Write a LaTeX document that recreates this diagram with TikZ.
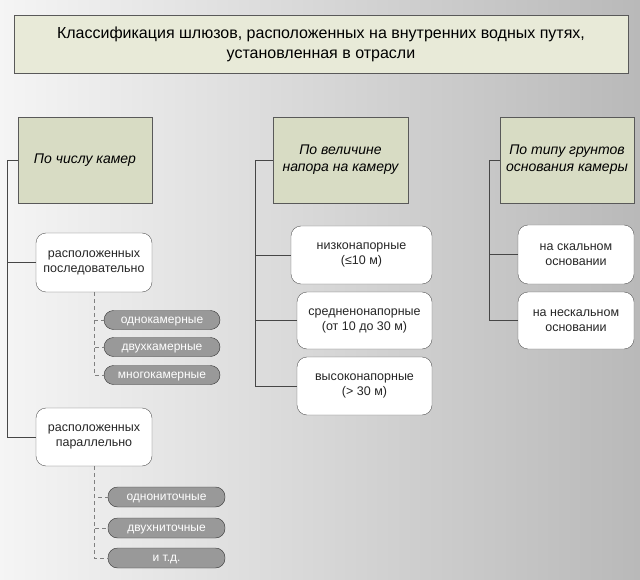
\documentclass[tikz,border=0pt]{standalone}
\usepackage{fontspec}
\setmainfont{Liberation Sans}
\usetikzlibrary{shapes,positioning}

\definecolor{headfill}{RGB}{216,220,196}
\definecolor{titlefill}{RGB}{232,234,216}
\definecolor{pillfill}{RGB}{153,153,153}
\definecolor{linegray}{RGB}{70,70,70}

\tikzset{
  titlebox/.style={draw=gray!70!black, fill=titlefill, align=center, inner sep=0pt,
    minimum width=614pt, minimum height=58pt, font=\fontsize{16}{20}\selectfont},
  headbox/.style={draw=gray!70!black, fill=headfill, align=center, inner sep=0pt,
    minimum width=134pt, minimum height=86pt, font=\fontsize{14}{17}\selectfont\itshape},
  catbox/.style={draw=gray!70!black, fill=white, rounded corners=10pt, align=center, inner sep=0pt,
    minimum width=116pt, minimum height=58pt, font=\fontsize{12.5}{15}\selectfont, text=black!85},
  pillbox/.style={draw=gray!40!black, fill=pillfill, rounded corners=9.5pt, inner sep=0pt,
    minimum width=116pt, minimum height=19pt, text height=8pt, text depth=1pt,
    text=white, font=\fontsize{12}{14}\selectfont},
  link/.style={draw=linegray, line width=0.8pt},
  sublink/.style={draw=gray, line width=0.8pt, dash pattern=on 4pt off 3pt}
}

\begin{document}
\begin{tikzpicture}[x=1pt,y=-1pt]
\useasboundingbox (0,0) rectangle (640,580);
\shade[left color=gray!8, right color=gray!55] (0,0) rectangle (640,580);

\path (321,44) node[titlebox] (title) {Классификация шлюзов, расположенных на внутренних водных путях,\\установленная в отрасли};

% column 1
\path (85,160) node[headbox] (hd1) {По числу камер};
\path (94,262.5) node[catbox, minimum height=59pt] (ser) {расположенных\\последовательно};
\path (94,437) node[catbox] (par) {расположенных\\параллельно};

\path (162,320) node[pillbox] (p1) {однокамерные};
\path (162,347) node[pillbox] (p2) {двухкамерные};
\path (162,375) node[pillbox] (p3) {многокамерные};
\path (166.5,497) node[pillbox, minimum width=117pt, minimum height=20pt] (q1) {однониточные};
\path (166.5,528) node[pillbox, minimum width=117pt, minimum height=20pt] (q2) {двухниточные};
\path (166.5,558) node[pillbox, minimum width=117pt, minimum height=20pt] (q3) {и т.д.};

\path[link] (hd1.west) -- ++(-10,0) |- (ser.west);
\path[link] (hd1.west) -- ++(-10,0) |- (par.west);
\foreach \p in {p1,p2,p3} \path[sublink] (ser.south) |- (\p.west);
\foreach \q in {q1,q2,q3} \path[sublink] (par.south) |- (\q.west);

% column 2
\path (340.5,160) node[headbox, minimum width=135pt] (hd2) {По величине\\напора на камеру};
\path (361.5,255) node[catbox, minimum width=141pt] (n1) {низконапорные\\(≤10 м)};
\path (364.5,320.5) node[catbox, minimum width=135pt, minimum height=57pt] (n2) {средненонапорные\\(от 10 до 30 м)};
\path (364.5,386) node[catbox, minimum width=135pt] (n3) {высоконапорные\\(> 30 м)};

\foreach \n in {n1,n2,n3} \path[link] (hd2.west) -- ++(-17,0) |- (\n.west);

% column 3
\path (567,160) node[headbox] (hd3) {По типу грунтов\\основания камеры};
\path (576,254.5) node[catbox, minimum height=59pt] (g1) {на скальном\\основании};
\path (576,320.5) node[catbox, minimum height=57pt] (g2) {на нескальном\\основании};

\foreach \g in {g1,g2} \path[link] (hd3.west) -- ++(-10,0) |- (\g.west);
\end{tikzpicture}
\end{document}
